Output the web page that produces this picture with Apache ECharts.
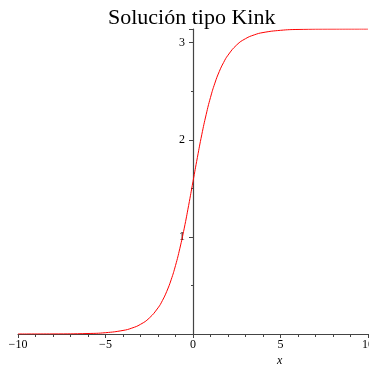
<!DOCTYPE html>
<html>
<head>
<meta charset="utf-8">
<script src="https://cdn.jsdelivr.net/npm/echarts@6/dist/echarts.min.js"></script>
<style>
  html, body { margin: 0; padding: 0; background: #fff; }
  #main { width: 369px; height: 371px; }
</style>
</head>
<body>
<div id="main"></div>
<script>
// Solución tipo Kink
var xs = [-10, -8, -6, -5, -4, -3.5, -3, -2.5, -2, -1.75, -1.5, -1.25, -1, -0.75, -0.5, -0.25,
          0, 0.25, 0.5, 0.75, 1, 1.25, 1.5, 1.75, 2, 2.5, 3, 3.5, 4, 5, 6, 8, 10];
var ys = [0.0001, 0.0007, 0.005, 0.0135, 0.0366, 0.0604, 0.0995, 0.164, 0.269, 0.344, 0.439, 0.558, 0.705, 0.883, 1.090, 1.324,
          1.571, 1.818, 2.052, 2.259, 2.437, 2.584, 2.703, 2.797, 2.872, 2.978, 3.042, 3.081, 3.105, 3.128, 3.137, 3.141, 3.1415];
var xTicks = [-10, -5, 0, 5, 10];
var yTicks = [1, 2, 3];

var datos = [];
for (var i = 0; i < xs.length; i++) {
    datos.push([xs[i], ys[i]]);
}

var grafica = echarts.init(document.getElementById('main'));
var option = {
    animation: false,
    backgroundColor: '#fff',
    title: {
        text: 'Solución tipo Kink',
        left: 103,
        top: 2,
        textStyle: {
            fontFamily: 'Liberation Serif',
            fontWeight: 'normal',
            fontSize: 22,
            color: '#000'
        }
    },
    grid: {
        left: 18, right: 1, top: 29, bottom: 37,
        outerBoundsMode: 'none'
    },
    xAxis: {
        type: 'value',
        min: -10,
        max: 10,
        interval: 5,
        splitLine: { show: false },
        axisLine: { onZero: true, lineStyle: { color: '#444', width: 1.2 } },
        axisTick: { length: 4, lineStyle: { color: '#444' } },
        minorTick: { show: true, splitNumber: 5, length: 3, lineStyle: { color: '#444' } },
        axisLabel: {
            color: '#000',
            fontFamily: 'Liberation Serif',
            fontSize: 12,
            margin: 5,
            formatter: function (v) {
                return xTicks.indexOf(v) >= 0 ? String(v).replace('-', '\u2212') : '';
            }
        }
    },
    yAxis: {
        type: 'value',
        min: 0,
        max: 3.1416,
        interval: 1,
        offset: -175,
        splitLine: { show: false },
        axisLine: { onZero: false, lineStyle: { color: '#444', width: 1.2 } },
        axisTick: { length: 4, lineStyle: { color: '#444' } },
        minorTick: { show: true, splitNumber: 2, length: 2, lineStyle: { color: '#444' } },
        axisLabel: {
            color: '#000',
            fontFamily: 'Liberation Serif',
            fontSize: 12,
            margin: 8,
            showMaxLabel: false,
            formatter: function (v) {
                return yTicks.indexOf(v) >= 0 ? String(v) : '';
            }
        }
    },
    graphic: [{
        type: 'text',
        left: 277,
        top: 355,
        style: {
            text: 'x',
            font: 'italic 12px "Liberation Serif"',
            fill: '#000'
        }
    }],
    series: [{
        type: 'line',
        data: datos,
        smooth: true,
        showSymbol: false,
        lineStyle: { color: '#ff0000', width: 1 },
        z: 1
    }]
};
grafica.setOption(option);
</script>
</body>
</html>
